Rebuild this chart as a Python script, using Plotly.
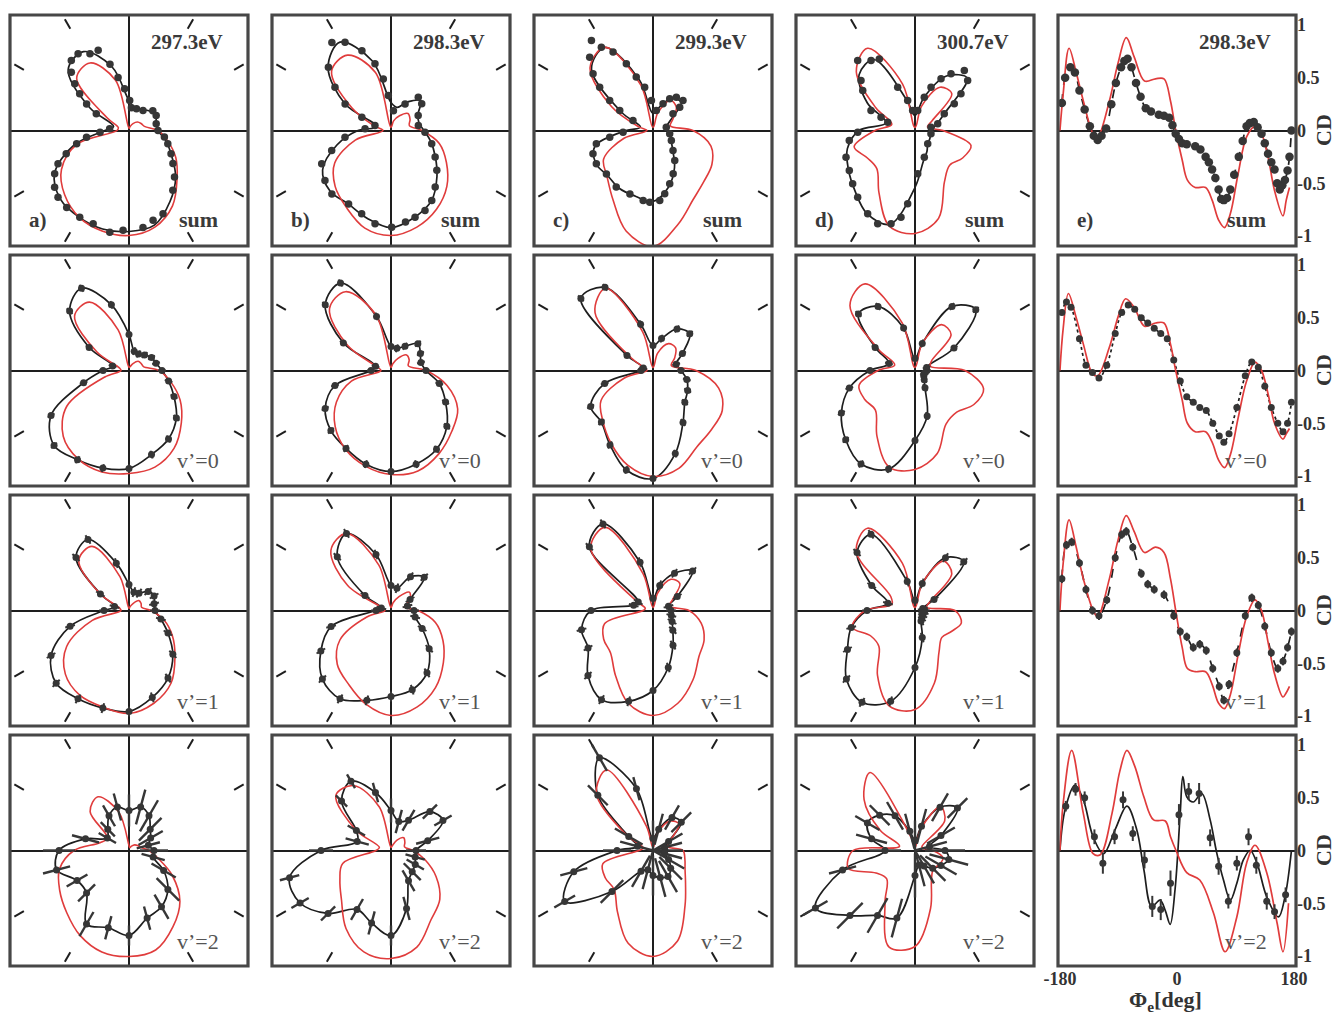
import numpy as np
import plotly.graph_objects as go

W, H = 1339, 1015

# ---------------- polar panels: radius (px-like units) every 15 deg, 0..345 ----------------
ANG = list(range(0, 360, 15))

RED_A1 = [29, 16, 14, 12, 8, 4, 2, 52, 78, 74, 25, 11, 12, 54, 78, 91, 100, 104, 105, 100, 87, 68, 54, 40]
BLK_A1 = [29, 28, 31, 28, 24, 23, 30, 66, 91, 86, 45, 16, 24, 57, 86, 97, 100, 102, 101, 98, 82, 66, 49, 38]
RED_B1 = [31, 19, 22, 24, 17, 10, 3, 60, 87, 84, 45, 17, 8, 37, 65, 79, 89, 101, 105, 100, 91, 79, 64, 50]
BLK_B1 = [33, 29, 31, 42, 33, 24, 28, 72, 102, 89, 53, 15, 33, 56, 79, 86, 85, 91, 97, 90, 81, 65, 51, 41]
RED_C1 = [40, 18, 23, 33, 35, 18, 3, 47, 96, 89, 48, 15, 6, 30, 57, 65, 80, 104, 116, 97, 80, 72, 68, 60]
BLK_C1 = [15, 14, 20, 40, 37, 24, 17, 52, 96, 87, 36, 13, 27, 60, 66, 64, 67, 68, 71, 59, 43, 28, 21, 18]
RED_D1 = [28, 13, 20, 52, 50, 25, 3, 48, 95, 83, 45, 24, 40, 63, 55, 54, 72, 99, 103, 91, 59, 49, 55, 58]
BLK_D1 = [16, 22, 34, 74, 63, 34, 15, 31, 82, 79, 55, 30, 56, 70, 77, 85, 96, 97, 57, 32, 24, 18, 17, 16]

# measured data points of the "sum" row (angle deg, radius)
DOT_ANG_A1 = [129.5, 123.6, 117, 111, 106, 101.7, 96, 88.7, 84, 71, 55, 39.8, 28.8, 13.8, 0, -10.6, -18.8, -28.9, -37, -45.6, -53.7, -67.8, -75, -81.8, -93.4, -100.7, -111, -119.6, -129, -136.8, -142.7, -149.8, -154.9, -159.6, -165.8, -171, -176.7, 175, 153, 148, 143.3, 139.3, 134.7]
DOT_R_A1 = [90.7, 92, 86, 86, 69, 54, 42, 30, 23, 23, 24.4, 31, 31, 28, 29, 36, 41, 48, 55, 65, 74, 90, 93, 98, 100, 103.5, 100, 99.7, 99, 97.4, 93.5, 86, 78.4, 67, 54, 43, 29, 19.4, 36.7, 50, 61.5, 71.6, 82]
DOT_ANG_B1 = [123.9, 117.5, 110, 103.5, 98.5, 94.4, 83, 62, 50.6, 41, 28.8, 10.4, -2.8, -18, -31, -41, -52, -59.8, -67, -74.5, -81, -89.6, -99.7, -109.4, -120, -133, -142.9, -154.3, -161.4, -171.7, 176, 134.7, 142.3, 150, 155.6, 162.6]
DOT_R_B1 = [106, 99.6, 85, 68.6, 52, 35, 20, 30, 43, 40.7, 31, 27.8, 34, 42.8, 51.5, 60.7, 71.8, 81, 87, 90, 92.7, 96.7, 94.7, 88.3, 84.8, 86.7, 82.8, 76.9, 62.6, 46.5, 26, 89, 70.8, 53, 32, 16.8]
DOT_ANG_C1 = [124.4, 121.8, 117, 111.8, 107.4, 100.9, 93, 80.6, 69.4, 62.2, 55, 45, 41, 39.8, 14, -11, -28.6, -45, -54, -65, -72.6, -79.5, -84.5, -92.6, -98, -110, -123, -137, -149.6, -158.8, -166.8, -171.2, -176.8, 130.8, 136.6, 140.9, 145.3, 149, 153.4]
DOT_R_C1 = [109, 98, 88, 71.8, 56, 44, 30, 20.3, 28.5, 35.8, 40.7, 42.4, 35.4, 26, 13.7, 17, 20.9, 28.3, 37, 47.7, 55.9, 64.4, 70.3, 71.8, 70.7, 67.5, 67.5, 63.7, 65.7, 64.4, 58.2, 43.8, 30, 96.9, 82.5, 68.7, 52.7, 38.8, 22.4]
DOT_ANG_D1 = [129.3, 122.1, 116.5, 111.8, 103.7, 96.7, 137.2, 142.6, 155.6, 158.6, 163, -178.3, -171.3, -158.8, -148.7, -139.5, -130.7, -119.6, -111.8, -104.4, -99.2, -95.7, -86.4, -70.8, -46.3, -11.7, 11.7, 82.3, 74.4, 69.7, 63.3, 57.6, 50.6, 43.5, 38.6, 34.2, 29.7, 16.4]
DOT_R_D1 = [90.5, 82.7, 80, 46.6, 30.9, 20.1, 73.6, 65.8, 48.3, 36.5, 28.5, 57.3, 66.5, 74, 76.9, 82, 87.9, 95.8, 100.5, 96.3, 87.8, 73.7, 43.4, 28.3, 18.4, 16.3, 16.3, 20.2, 34.6, 46.2, 57.9, 67.2, 77.7, 72.6, 58.8, 47.5, 33.7, 23.7]

RED_A2 = [30, 15, 14, 13, 8, 4, 3, 42, 79, 77, 37, 10, 8, 25, 72, 93, 102, 105, 103, 100, 90, 74, 59, 43]
BLK_A2 = [33, 28, 26, 22, 19, 20, 36, 68, 95, 84, 46, 17, 26, 47, 90, 106, 103, 101, 98, 87, 79, 67, 52, 41]
RED_B2 = [35, 18, 21, 22, 14, 7, 3, 57, 91, 87, 50, 15, 10, 41, 63, 79, 91, 99, 104, 104, 96, 86, 77, 58]
BLK_B2 = [35, 31, 34, 38, 28, 23, 24, 56, 101, 93, 55, 16, 20, 58, 76, 85, 90, 97, 101, 97, 91, 79, 63, 50]
RED_C2 = [43, 19, 25, 32, 31, 18, 3, 40, 95, 82, 25, 8, 6, 30, 60, 71, 84, 98, 106, 101, 88, 83, 80, 68]
BLK_C2 = [28, 24, 34, 52, 48, 33, 25, 48, 96, 102, 30, 10, 12, 50, 72, 73, 86, 103, 108, 86, 60, 45, 40, 35]
RED_D2 = [50, 16, 19, 51, 53, 28, 3, 49, 100, 92, 42, 21, 37, 58, 58, 56, 76, 100, 99, 86, 62, 59, 68, 71]
BLK_D2 = [12, 12, 45, 86, 74, 28, 12, 44, 74, 80, 46, 27, 45, 68, 85, 98, 108, 102, 70, 47, 20, 13, 10, 10]

RED_A3 = [22, 13, 14, 14, 8, 4, 2, 35, 74, 71, 33, 10, 8, 38, 72, 90, 98, 100, 103, 96, 84, 65, 50, 36]
BLK_A3 = [26, 26, 29, 27, 20, 19, 26, 49, 82, 75, 33, 15, 25, 61, 90, 103, 102, 101, 101, 90, 78, 62, 45, 33]
RED_B3 = [27, 14, 22, 26, 16, 8, 3, 47, 89, 85, 50, 8, 6, 25, 59, 76, 85, 97, 105, 100, 89, 74, 60, 46]
BLK_B3 = [23, 17, 22, 47, 39, 23, 25, 58, 89, 76, 30, 10, 15, 62, 81, 97, 102, 93, 86, 82, 72, 54, 36, 25]
RED_C3 = [36, 17, 23, 38, 36, 18, 3, 38, 96, 88, 20, 8, 10, 50, 57, 60, 75, 96, 105, 96, 80, 65, 59, 50]
BLK_C3 = [18, 16, 28, 56, 43, 26, 12, 50, 100, 90, 17, 20, 62, 74, 75, 92, 103, 94, 80, 59, 40, 28, 22, 19]
RED_D3 = [40, 12, 17, 52, 57, 28, 3, 49, 95, 83, 28, 24, 50, 65, 51, 51, 75, 99, 99, 75, 48, 38, 42, 48]
BLK_D3 = [10, 8, 22, 69, 61, 28, 10, 30, 88, 82, 50, 28, 48, 66, 78, 97, 106, 94, 57, 28, 12, 10, 9, 9]

RED_A4 = [20, 12, 10, 8, 5, 3, 5, 40, 62, 55, 25, 30, 55, 72, 80, 88, 98, 105, 106, 103, 88, 72, 50, 30]
BLK_A4 = [25, 20, 25, 30, 40, 45, 40, 45, 40, 30, 25, 45, 70, 75, 60, 60, 85, 80, 85, 70, 65, 55, 40, 25]
RED_B4 = [22, 14, 16, 18, 12, 5, 3, 45, 75, 78, 40, 12, 15, 50, 59, 70, 90, 105, 108, 100, 80, 69, 52, 35]
BLK_B4 = [25, 38, 60, 55, 35, 30, 40, 60, 80, 70, 40, 35, 70, 105, 105, 89, 68, 75, 85, 60, 35, 30, 28, 25]
RED_C4 = [30, 15, 20, 37, 34, 18, 3, 25, 93, 80, 30, 10, 14, 52, 55, 55, 71, 96, 106, 94, 64, 46, 37, 33]
BLK_C4 = [12, 12, 18, 40, 38, 22, 12, 64, 107, 78, 28, 16, 36, 82, 102, 58, 24, 20, 25, 28, 30, 25, 18, 12]
RED_D4 = [18, 8, 8, 42, 51, 22, 3, 12, 90, 72, 40, 16, 62, 69, 45, 40, 60, 100, 96, 60, 33, 26, 28, 29]
BLK_D4 = [30, 15, 30, 60, 50, 25, 10, 20, 40, 50, 55, 45, 30, 75, 115, 92, 75, 70, 25, 15, 18, 25, 30, 35]

ERR_ROWS = [3, 4, 5]
ERR_A4 = [14, 12, 14, 16, 18, 18, 16, 14, 12, 10, 10, 14, 16, 14, 12, 12, 14, 12, 10, 12, 14, 16, 14, 12]
ERR_B4 = [10, 12, 10, 10, 12, 12, 12, 10, 8, 8, 10, 12, 12, 10, 10, 10, 12, 12, 10, 12, 12, 12, 10, 10]
ERR_C4 = [18, 18, 16, 14, 14, 16, 18, 12, 15, 14, 16, 18, 14, 14, 12, 16, 18, 20, 20, 20, 18, 16, 18, 18]
ERR_D4 = [20, 18, 16, 14, 16, 18, 20, 18, 16, 14, 14, 16, 16, 14, 14, 18, 20, 20, 22, 22, 20, 18, 18, 20]

ENERGIES = ["297.3eV", "298.3eV", "299.3eV", "300.7eV", "298.3eV"]
LETTERS = ["a)", "b)", "c)", "d)", "e)"]
ROW_TAGS = ["sum", "v\u2019=0", "v\u2019=1", "v\u2019=2"]

# ---------------- CD panels (column e): phi [deg], CD ----------------
CD_PHI_RED1 = [-180, -175, -166, -155, -144, -129, -122, -104, -91, -78, -66, -50, -33, -20, -10, -2, 8, 16, 28, 44, 54, 64, 73, 82, 94, 107, 120, 130, 140, 150, 163, 168, 173]
CD_RED1 = [0, 0.35, 0.78, 0.55, 0.28, -0.03, -0.06, 0.28, 0.63, 0.88, 0.7, 0.47, 0.49, 0.49, 0.28, 0, -0.28, -0.47, -0.54, -0.54, -0.66, -0.85, -0.92, -0.79, -0.41, -0.06, 0.04, -0.03, -0.25, -0.57, -0.81, -0.66, -0.54]
CD_PHI_BLK1 = [-177, -172, -164, -157, -150, -142, -134, -128, -122, -116, -109, -101, -94, -86, -81, -76, -70, -63, -56, -48, -40, -28, -20, -12, -7, -2, 3, 8, 15, 28, 36, 44, 49, 54, 59, 64, 68, 72, 77, 82, 88, 95, 101, 107, 112, 118, 124, 130, 135, 140, 145, 150, 154, 158, 162, 166, 170, 173, 176]
CD_BLK1 = [0.26, 0.5, 0.6, 0.55, 0.38, 0.2, 0.04, -0.05, -0.09, -0.05, 0.02, 0.25, 0.45, 0.6, 0.66, 0.68, 0.6, 0.45, 0.32, 0.21, 0.18, 0.15, 0.14, 0.12, 0.05, -0.03, -0.08, -0.12, -0.13, -0.15, -0.18, -0.25, -0.3, -0.37, -0.45, -0.56, -0.65, -0.66, -0.64, -0.56, -0.42, -0.25, -0.1, 0.04, 0.07, 0.08, 0.03, -0.03, -0.12, -0.22, -0.3, -0.37, -0.5, -0.56, -0.52, -0.47, -0.38, -0.25, 0.0]

CD_PHI_RED2 = [-180, -175, -167, -155, -144, -130, -122, -104, -90, -79, -66, -50, -33, -20, -10, -2, 8, 16, 28, 44, 54, 64, 73, 82, 94, 107, 120, 130, 140, 150, 163, 168, 173]
CD_RED2 = [0, 0.4, 0.73, 0.5, 0.25, -0.03, -0.05, 0.22, 0.52, 0.68, 0.6, 0.42, 0.45, 0.45, 0.25, 0, -0.28, -0.5, -0.58, -0.58, -0.68, -0.85, -0.92, -0.8, -0.45, -0.1, 0.08, 0.0, -0.22, -0.5, -0.65, -0.6, -0.55]
CD_PHI_BLK2 = [-177, -170, -163, -150, -140, -130, -120, -108, -95, -85, -75, -65, -55, -45, -35, -25, -15, -5, 5, 15, 25, 35, 45, 55, 65, 72, 80, 92, 105, 115, 125, 135, 145, 155, 163, 170, 176]
CD_BLK2 = [0.55, 0.65, 0.6, 0.3, 0.05, -0.02, -0.07, 0.05, 0.35, 0.55, 0.62, 0.58, 0.5, 0.45, 0.4, 0.35, 0.3, 0.1, -0.1, -0.25, -0.3, -0.35, -0.38, -0.5, -0.62, -0.68, -0.6, -0.35, -0.05, 0.08, 0.03, -0.15, -0.35, -0.5, -0.58, -0.5, -0.3]

CD_PHI_RED3 = [-180, -175, -166, -155, -144, -129, -122, -104, -91, -78, -66, -50, -33, -20, -10, -2, 8, 16, 28, 44, 54, 64, 73, 82, 94, 107, 120, 130, 140, 150, 163, 168, 173]
CD_RED3 = [0, 0.45, 0.86, 0.6, 0.3, 0.0, -0.06, 0.3, 0.66, 0.9, 0.75, 0.55, 0.6, 0.55, 0.3, 0, -0.35, -0.55, -0.58, -0.58, -0.7, -0.88, -0.93, -0.8, -0.42, -0.06, 0.1, 0.0, -0.3, -0.6, -0.82, -0.78, -0.72]
CD_PHI_BLK3 = [-177, -170, -162, -150, -140, -130, -120, -108, -95, -85, -78, -68, -55, -45, -35, -20, -5, 5, 15, 25, 35, 45, 55, 65, 72, 80, 92, 105, 115, 125, 135, 145, 155, 163, 170, 176]
CD_BLK3 = [0.3, 0.62, 0.65, 0.45, 0.2, 0.0, -0.05, 0.1, 0.5, 0.72, 0.75, 0.6, 0.35, 0.25, 0.2, 0.15, -0.05, -0.2, -0.25, -0.35, -0.32, -0.38, -0.55, -0.72, -0.85, -0.7, -0.4, -0.05, 0.12, 0.05, -0.15, -0.4, -0.55, -0.48, -0.35, -0.2]
CD_ERR3 = 0.04

CD_PHI_RED4 = [-180, -175, -162, -144, -129, -118, -100, -88, -77, -65, -51, -36, -18, -10, -1.5, 15, 35, 56, 74, 92, 107, 120, 138, 154, 163, 171.5]
CD_RED4 = [0, 0.45, 0.95, 0.35, -0.03, -0.04, 0.35, 0.75, 0.95, 0.8, 0.51, 0.29, 0.28, 0.13, 0, -0.21, -0.28, -0.59, -0.96, -0.63, -0.12, 0.05, -0.21, -0.69, -0.96, -0.5]
CD_PHI_FIT4 = [-180, -172, -157, -144, -129, -113, -95, -77, -62, -51, -39, -26, -18, -10.5, -3, 5, 9, 15, 25, 38, 51, 61, 71.5, 82, 92, 102, 112.5, 123, 138, 156, 166, 176]
CD_FIT4 = [0, 0.39, 0.62, 0.48, 0.13, -0.03, 0.2, 0.42, 0.2, -0.18, -0.53, -0.47, -0.57, -0.7, -0.37, 0.36, 0.7, 0.51, 0.46, 0.54, 0.29, -0.02, -0.28, -0.47, -0.31, -0.09, 0.0, -0.12, -0.44, -0.63, -0.44, 0]
CD_PHI_DOT4 = [-171, -156, -142, -127, -114, -96, -83, -68, -50, -38, -25, -10, 3, 18, 34, 51, 64, 79, 92, 110, 122, 138, 150, 167]
CD_DOT4 = [0.42, 0.58, 0.5, 0.13, -0.12, 0.13, 0.48, 0.16, -0.09, -0.53, -0.56, -0.31, 0.34, 0.56, 0.54, 0.12, -0.15, -0.48, -0.12, 0.13, -0.14, -0.48, -0.58, -0.42]
CD_ERR4 = [0.05, 0.06, 0.06, 0.07, 0.1, 0.07, 0.08, 0.07, 0.08, 0.1, 0.1, 0.12, 0.1, 0.08, 0.1, 0.08, 0.08, 0.07, 0.07, 0.08, 0.08, 0.08, 0.07, 0.07]

# ---------------- layout geometry ----------------
COL_X = [(10, 248), (272, 510), (534, 772), (796, 1034), (1058, 1296)]
ROW_Y = [(15, 246), (255, 486), (495, 726), (735, 966)]

RED = "#e03c3c"
BLK = "#1e1e1e"
DOT = "#363636"
FRAME = "#474747"
SERIF = "Liberation Serif"

# (red curve, black fit, dot angles, dot radii, radial errors)
POLAR = [
    [(RED_A1, BLK_A1, DOT_ANG_A1, DOT_R_A1, None), (RED_B1, BLK_B1, DOT_ANG_B1, DOT_R_B1, None),
     (RED_C1, BLK_C1, DOT_ANG_C1, DOT_R_C1, None), (RED_D1, BLK_D1, DOT_ANG_D1, DOT_R_D1, None)],
    [(RED_A2, BLK_A2, ANG, BLK_A2, None), (RED_B2, BLK_B2, ANG, BLK_B2, None),
     (RED_C2, BLK_C2, ANG, BLK_C2, None), (RED_D2, BLK_D2, ANG, BLK_D2, None)],
    [(RED_A3, BLK_A3, ANG, BLK_A3, None), (RED_B3, BLK_B3, ANG, BLK_B3, None),
     (RED_C3, BLK_C3, ANG, BLK_C3, None), (RED_D3, BLK_D3, ANG, BLK_D3, None)],
    [(RED_A4, BLK_A4, ANG, BLK_A4, ERR_A4), (RED_B4, BLK_B4, ANG, BLK_B4, ERR_B4),
     (RED_C4, BLK_C4, ANG, BLK_C4, ERR_C4), (RED_D4, BLK_D4, ANG, BLK_D4, ERR_D4)],
]
CD = [
    (CD_PHI_RED1, CD_RED1, CD_PHI_BLK1, CD_BLK1, CD_PHI_BLK1, CD_BLK1, None, "dash"),
    (CD_PHI_RED2, CD_RED2, CD_PHI_BLK2, CD_BLK2, CD_PHI_BLK2, CD_BLK2, None, "dot"),
    (CD_PHI_RED3, CD_RED3, CD_PHI_BLK3, CD_BLK3, CD_PHI_BLK3, CD_BLK3, CD_ERR3, "dash"),
    (CD_PHI_RED4, CD_RED4, CD_PHI_FIT4, CD_FIT4, CD_PHI_DOT4, CD_DOT4, CD_ERR4, "solid"),
]


def closed_xy(r):
    r = np.asarray(r, dtype=float)
    a = np.radians(np.asarray(ANG, dtype=float))
    i0 = int(np.argmin(r))
    idx = list(range(i0, len(r))) + list(range(0, i0 + 1))
    return (r[idx] * np.cos(a[idx])).tolist(), (r[idx] * np.sin(a[idx])).tolist()


fig = go.Figure()
lay = {}
shapes = []
ann = []

k = 0
for ri in range(4):
    for ci in range(5):
        k += 1
        xa = "x" if k == 1 else f"x{k}"
        ya = "y" if k == 1 else f"y{k}"
        xk = "xaxis" if k == 1 else f"xaxis{k}"
        yk = "yaxis" if k == 1 else f"yaxis{k}"
        x0, x1 = COL_X[ci]
        y0, y1 = ROW_Y[ri]
        dx = [x0 / W, x1 / W]
        dy = [1 - y1 / H, 1 - y0 / H]
        hx = (x1 - x0) / 2
        hy = (y1 - y0) / 2
        shapes.append(dict(type="rect", xref="paper", yref="paper", x0=x0 / W, x1=x1 / W,
                           y0=1 - y1 / H, y1=1 - y0 / H, line=dict(color=FRAME, width=3.2)))
        if ci < 4:
            red, blk, dang, drad, err = POLAR[ri][ci]
            common = dict(showgrid=False, showticklabels=False, ticks="", zeroline=True,
                          zerolinecolor=BLK, zerolinewidth=1.6, showline=False, fixedrange=True,
                          automargin=False)
            lay[xk] = dict(domain=dx, range=[-hx, hx], anchor=ya, **common)
            lay[yk] = dict(domain=dy, range=[-hy, hy], anchor=xa, **common)
            # frame ticks every 30 deg (off the main axes)
            tx, ty = [], []
            for a in [30, 60, 120, 150, 210, 240, 300, 330]:
                c, s = np.cos(np.radians(a)), np.sin(np.radians(a))
                t = min(hx / abs(c), hy / abs(s))
                for rr in (t - 16, t - 5):
                    tx.append(rr * c)
                    ty.append(rr * s)
                tx.append(None)
                ty.append(None)
            fig.add_trace(go.Scatter(x=tx, y=ty, xaxis=xa, yaxis=ya, mode="lines",
                                     line=dict(color=BLK, width=2), hoverinfo="skip"))
            bx, by = closed_xy(blk)
            fig.add_trace(go.Scatter(x=bx, y=by, xaxis=xa, yaxis=ya, mode="lines",
                                     line=dict(color=BLK, width=1.7, shape="spline", smoothing=1.0)))
            rx, ry = closed_xy(red)
            fig.add_trace(go.Scatter(x=rx, y=ry, xaxis=xa, yaxis=ya, mode="lines",
                                     line=dict(color=RED, width=1.6, shape="spline", smoothing=1.0)))
            # data points with radial error bars
            errs = err if err is not None else [ERR_ROWS[ri]] * len(dang)
            ex, ey = [], []
            px, py = [], []
            for a, rv, e in zip(dang, drad, errs):
                c, s = np.cos(np.radians(a)), np.sin(np.radians(a))
                lo = max(rv - e, 0)
                ex += [lo * c, (rv + e) * c, None]
                ey += [lo * s, (rv + e) * s, None]
                px.append(rv * c)
                py.append(rv * s)
            fig.add_trace(go.Scatter(x=ex, y=ey, xaxis=xa, yaxis=ya, mode="lines",
                                     line=dict(color=DOT, width=2.4 if ri == 3 else 2), hoverinfo="skip"))
            fig.add_trace(go.Scatter(x=px, y=py, xaxis=xa, yaxis=ya, mode="markers",
                                     marker=dict(color=DOT, size=7.5 if ri == 0 else 7)))
        else:
            phr, cdr, phl, cdl, phd, cdd, cerr, dash = CD[ri]
            lay[xk] = dict(domain=dx, range=[-183, 183], anchor=ya, showgrid=False, zeroline=False,
                           showline=False, fixedrange=True, ticks="", automargin=False,
                           showticklabels=(ri == 3), tickvals=[-180, 0, 180],
                           ticktext=["-180", "0", "180"],
                           tickfont=dict(family=SERIF, size=18, color="#333", weight="bold"))
            lay[yk] = dict(domain=dy, range=[-1.095, 1.095], anchor=xa, side="right", showgrid=False,
                           zeroline=True, zerolinecolor=BLK, zerolinewidth=1.6, showline=False,
                           fixedrange=True, ticks="", automargin=False, tickvals=[1, 0.5, 0, -0.5, -1],
                           ticktext=["1", "0.5", "0", "-0.5", "-1"],
                           tickfont=dict(family=SERIF, size=18, color="#333", weight="bold"))
            fig.add_trace(go.Scatter(x=phl, y=cdl, xaxis=xa, yaxis=ya, mode="lines",
                                     line=dict(color=BLK, width=1.7, dash=dash, shape="spline")))
            fig.add_trace(go.Scatter(x=phr, y=cdr, xaxis=xa, yaxis=ya, mode="lines",
                                     line=dict(color=RED, width=1.7, shape="spline")))
            if cerr is None:
                eyd = None
            elif isinstance(cerr, list):
                eyd = dict(type="data", array=cerr, color=DOT, thickness=2, width=0)
            else:
                eyd = dict(type="constant", value=cerr, color=DOT, thickness=2, width=0)
            fig.add_trace(go.Scatter(x=phd, y=cdd, xaxis=xa, yaxis=ya, mode="markers",
                                     error_y=eyd, marker=dict(color=DOT, size=8.5 if ri == 0 else 7)))
            ann.append(dict(xref="paper", yref="paper", x=1338 / W, y=1 - (y0 + y1) / 2 / H,
                            xanchor="right", yanchor="middle",
                            text="CD", showarrow=False, textangle=-90,
                            font=dict(family=SERIF, size=22, color="#333", weight="bold")))
        # panel texts
        if ri == 0:
            ann.append(dict(xref="paper", yref="paper", x=(x1 - 23) / W, y=1 - (y0 + 27) / H,
                            xanchor="right", yanchor="middle", text=ENERGIES[ci], showarrow=False,
                            font=dict(family=SERIF, size=21, color="#3a3a3a", weight="bold")))
            ann.append(dict(xref="paper", yref="paper", x=(x0 + 17) / W, y=1 - (y1 - 26) / H,
                            xanchor="left", yanchor="middle", text=LETTERS[ci], showarrow=False,
                            font=dict(family=SERIF, size=21, color="#3a3a3a", weight="bold")))
            ann.append(dict(xref="paper", yref="paper", x=(x1 - 28) / W, y=1 - (y1 - 26) / H,
                            xanchor="right", yanchor="middle", text=ROW_TAGS[0], showarrow=False,
                            font=dict(family=SERIF, size=22, color="#3a3a3a", weight="bold")))
        else:
            ann.append(dict(xref="paper", yref="paper", x=(x1 - 27) / W, y=1 - (y1 - 25) / H,
                            xanchor="right", yanchor="middle", text=ROW_TAGS[ri], showarrow=False,
                            font=dict(family=SERIF, size=22, color="#555")))

ann.append(dict(xref="paper", yref="paper", x=1165 / W, y=1 - 1001 / H, xanchor="center",
                yanchor="middle", text="\u03a6<sub>e</sub>[deg]", showarrow=False,
                font=dict(family=SERIF, size=22, color="#333", weight="bold")))

fig.update_layout(width=W, height=H, margin=dict(l=0, r=0, t=0, b=0, autoexpand=False),
                  showlegend=False, plot_bgcolor="white", paper_bgcolor="white",
                  shapes=shapes, annotations=ann, **lay)
fig.write_html("out.html", config={"displayModeBar": False},
               post_script="document.body.style.margin='0';document.body.style.overflow='hidden';")
